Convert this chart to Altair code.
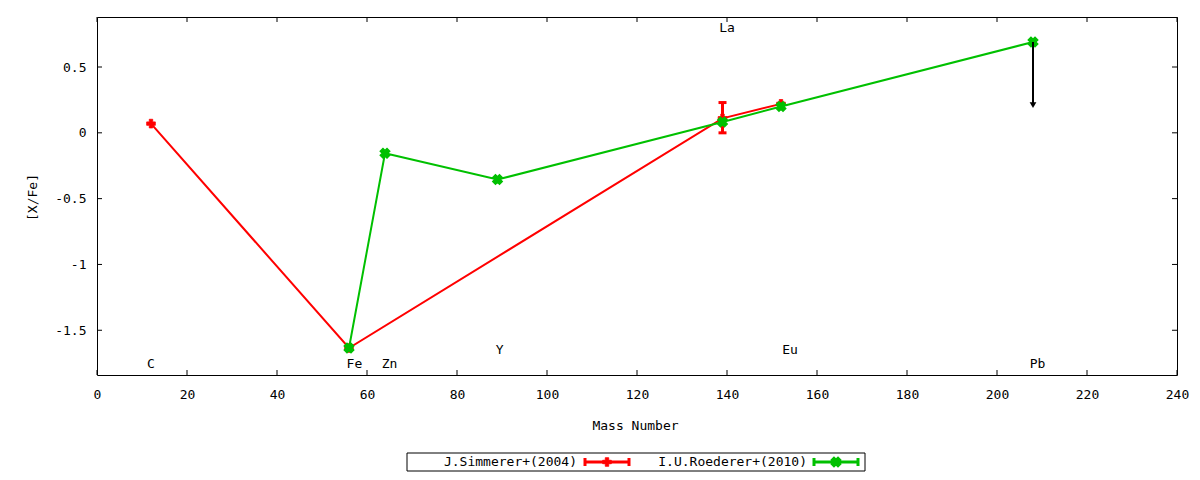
import altair as alt
import pandas as pd

# ---------------- data ----------------
red_name = "J.Simmerer+(2004)"
red_mass = [12, 56, 139, 152]
red_xfe = [0.07, -1.635, 0.11, 0.22]
red_err_mass = [139]
red_err_lo = [0.0]
red_err_hi = [0.23]

green_name = "I.U.Roederer+(2010)"
green_mass = [56, 64, 89, 139, 152, 208]
green_xfe = [-1.635, -0.155, -0.355, 0.082, 0.20, 0.69]

limit_mass = [208]
limit_from = [0.69]
limit_tip = [0.21]

elem_names = ["C", "Fe", "Zn", "Y", "La", "Eu", "Pb"]
elem_x = [12, 57.2, 65, 89.5, 140, 154, 209]
elem_y = [-1.757, -1.757, -1.757, -1.65, 0.80, -1.65, -1.757]

x_ticks = list(range(0, 241, 20))
y_ticks = [-1.5, -1.0, -0.5, 0.0, 0.5]

RED = "#ff0000"
GREEN = "#00c000"
FONT = "DejaVu Sans Mono"
W, H = 1080, 358

xs = alt.Scale(domain=[0, 240], nice=False, zero=False)
ys = alt.Scale(domain=[-1.84, 0.88], nice=False, zero=False)

red_df = pd.DataFrame({"m": red_mass, "v": red_xfe})
err_df = pd.DataFrame({"m": red_err_mass, "lo": red_err_lo, "hi": red_err_hi})
green_df = pd.DataFrame({"m": green_mass, "v": green_xfe})
lim_df = pd.DataFrame({"m": limit_mass, "a": limit_from, "b": limit_tip})
lab_df = pd.DataFrame({"t": elem_names, "m": elem_x, "v": elem_y})
xt_df = pd.DataFrame({"m": x_ticks})
yt_df = pd.DataFrame({"v": y_ticks})
one = pd.DataFrame({"k": [0]})

xaxis = alt.Axis(values=x_ticks, ticks=False, domain=False, grid=False,
                 labelFlush=False, labelOverlap=False,
                 labelPadding=19, labelBaseline="middle", title="Mass Number",
                 titleX=538, titleY=50, titleBaseline="middle", titleAlign="center")
yaxis = alt.Axis(values=y_ticks, ticks=False, domain=False, grid=False,
                 labelFlush=False, labelPadding=11,
                 labelExpr="datum.value == 0 ? '0' : (datum.value < 0 ? '-' + format(-datum.value, '~g') : format(datum.value, '~g'))",
                 title="[X/Fe]", titleX=-65, titleY=180, titleBaseline="middle",
                 titleAlign="center")

base_x = alt.X("m:Q", scale=xs, axis=xaxis)
base_y = alt.Y("v:Q", scale=ys, axis=yaxis)

red_line = alt.Chart(red_df).mark_line(color=RED, strokeWidth=2).encode(x=base_x, y=base_y)
red_pts = alt.Chart(red_df).mark_point(shape="cross", filled=True, size=75, color=RED,
                                       stroke=RED, strokeWidth=0.8, opacity=1).encode(
    x=alt.X("m:Q", scale=xs), y=alt.Y("v:Q", scale=ys))
err_rule = alt.Chart(err_df).mark_rule(color=RED, strokeWidth=3).encode(
    x=alt.X("m:Q", scale=xs), y=alt.Y("lo:Q", scale=ys), y2="hi:Q")
err_cap_lo = alt.Chart(err_df).mark_tick(color=RED, orient="horizontal", size=8, thickness=3, opacity=1).encode(
    x=alt.X("m:Q", scale=xs), y=alt.Y("lo:Q", scale=ys))
err_cap_hi = alt.Chart(err_df).mark_tick(color=RED, orient="horizontal", size=8, thickness=3, opacity=1).encode(
    x=alt.X("m:Q", scale=xs), y=alt.Y("hi:Q", scale=ys))

green_line = alt.Chart(green_df).mark_line(color=GREEN, strokeWidth=2).encode(
    x=alt.X("m:Q", scale=xs), y=alt.Y("v:Q", scale=ys))
green_pts = alt.Chart(green_df).mark_point(shape="cross", angle=45, filled=True, size=90,
                                           color=GREEN, stroke=GREEN, strokeWidth=1.5, opacity=1).encode(
    x=alt.X("m:Q", scale=xs), y=alt.Y("v:Q", scale=ys))

lim_rule = alt.Chart(lim_df).mark_rule(color="black", strokeWidth=2).encode(
    x=alt.X("m:Q", scale=xs), y=alt.Y("a:Q", scale=ys), y2="b:Q")
lim_head = alt.Chart(lim_df).mark_point(shape="triangle-down", filled=True, size=45,
                                        color="black", opacity=1).encode(
    x=alt.X("m:Q", scale=xs), y=alt.Y("b:Q", scale=ys))

labels = alt.Chart(lab_df).mark_text(font=FONT, fontSize=13, color="black",
                                     align="center", baseline="middle").encode(
    x=alt.X("m:Q", scale=xs), y=alt.Y("v:Q", scale=ys), text="t:N")

# inward ticks on all four sides
tk = dict(color="black", strokeWidth=1)
xt_bot = alt.Chart(xt_df).mark_rule(**tk).encode(x=alt.X("m:Q", scale=xs), y=alt.value(H), y2=alt.value(H - 5))
xt_top = alt.Chart(xt_df).mark_rule(**tk).encode(x=alt.X("m:Q", scale=xs), y=alt.value(0), y2=alt.value(5))
yt_l = alt.Chart(yt_df).mark_rule(**tk).encode(y=alt.Y("v:Q", scale=ys), x=alt.value(0), x2=alt.value(5))
yt_r = alt.Chart(yt_df).mark_rule(**tk).encode(y=alt.Y("v:Q", scale=ys), x=alt.value(W), x2=alt.value(W - 5))

# legend box (gnuplot style: label then sample)
LY = 445
leg_box = alt.Chart(one).mark_rect(fill="white", stroke="black", strokeWidth=1).encode(
    x=alt.value(310), x2=alt.value(768), y=alt.value(436), y2=alt.value(454))
leg_t1 = alt.Chart(one).mark_text(font=FONT, fontSize=13, align="right", baseline="middle",
                                  text=red_name).encode(x=alt.value(480), y=alt.value(LY))
leg_t2 = alt.Chart(one).mark_text(font=FONT, fontSize=13, align="right", baseline="middle",
                                  text=green_name).encode(x=alt.value(710), y=alt.value(LY))


def sample(x0, x1, col, shape_kw):
    parts = [
        alt.Chart(one).mark_rule(color=col, strokeWidth=3).encode(
            x=alt.value(x0), x2=alt.value(x1), y=alt.value(LY)),
        alt.Chart(one).mark_rule(color=col, strokeWidth=3).encode(
            x=alt.value(x0), y=alt.value(LY - 4), y2=alt.value(LY + 4)),
        alt.Chart(one).mark_rule(color=col, strokeWidth=3).encode(
            x=alt.value(x1), y=alt.value(LY - 4), y2=alt.value(LY + 4)),
        alt.Chart(one).mark_point(color=col, stroke=col, filled=True, opacity=1, **shape_kw).encode(
            x=alt.value((x0 + x1) / 2), y=alt.value(LY)),
    ]
    return parts


leg_red = sample(488, 532, RED, dict(shape="cross", size=75, strokeWidth=0.8))
leg_green = sample(717, 761, GREEN, dict(shape="cross", angle=45, size=90, strokeWidth=1.5))

chart = alt.layer(
    red_line, err_rule, err_cap_lo, err_cap_hi, red_pts,
    green_line, green_pts, lim_rule, lim_head, labels,
    xt_bot, xt_top, yt_l, yt_r,
    leg_box, leg_t1, leg_t2, *leg_red, *leg_green,
).properties(
    width=W, height=H,
    autosize=alt.AutoSizeParams(type="none"),
    padding={"left": 89, "top": 9, "right": 12, "bottom": 97},
    background="white",
).configure_view(
    stroke="black", strokeWidth=1
).configure_axis(
    labelFont=FONT, labelFontSize=13, labelColor="black",
    titleFont=FONT, titleFontSize=13, titleFontWeight="normal", titleColor="black",
)

chart.save("out.html", embed_options={"renderer": "svg", "actions": False})
